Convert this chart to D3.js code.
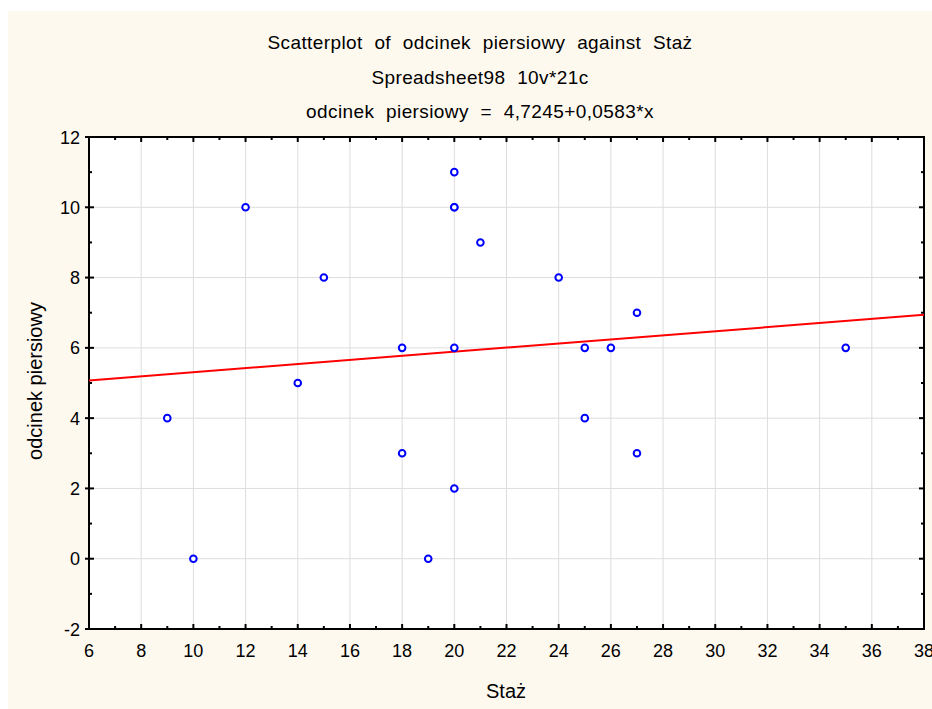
<!DOCTYPE html>
<html>
<head>
<meta charset="utf-8">
<script src="https://cdn.jsdelivr.net/npm/d3@7"></script>
<style>
  body { margin: 0; background: #ffffff; }
  svg { display: block; font-family: "Liberation Sans", Arial, sans-serif; }
</style>
</head>
<body>
<div id="chart"></div>
<script>
// data (21 cases, one duplicate at 20,10)
var staz = [9, 10, 12, 14, 15, 18, 18, 19, 20, 20, 20, 20, 20, 21, 24, 25, 25, 26, 27, 27, 35];
var odcinek = [4, 0, 10, 5, 8, 6, 3, 0, 11, 10, 10, 6, 2, 9, 8, 6, 4, 6, 7, 3, 6];
var xTicks = [6, 8, 10, 12, 14, 16, 18, 20, 22, 24, 26, 28, 30, 32, 34, 36, 38];
var yTicks = [-2, 0, 2, 4, 6, 8, 10, 12];
var intercept = 4.7245, slope = 0.0583;
var titles = ["Scatterplot of odcinek piersiowy against Staż",
              "Spreadsheet98 10v*21c",
              "odcinek piersiowy = 4,7245+0,0583*x"];

function drawChart() {
  var width = 932, height = 709;
  var pLeft = 89, pRight = 924, pTop = 137, pBottom = 629;

  var svg = d3.select("#chart").append("svg")
      .attr("width", width).attr("height", height);

  // cream panel
  svg.append("rect").attr("x", 8).attr("y", 11)
      .attr("width", width - 8).attr("height", height - 11)
      .attr("fill", "#fef9ef");

  var x = d3.scaleLinear().domain([6, 38]).range([pLeft, pRight]);
  var y = d3.scaleLinear().domain([-2, 12]).range([pBottom, pTop]);

  // plot background
  svg.append("rect").attr("x", pLeft).attr("y", pTop)
      .attr("width", pRight - pLeft).attr("height", pBottom - pTop)
      .attr("fill", "#fff");

  // grid
  svg.append("g").selectAll("line").data(xTicks.slice(1, -1)).enter().append("line")
      .attr("x1", d => x(d)).attr("x2", d => x(d))
      .attr("y1", pTop).attr("y2", pBottom)
      .attr("stroke", "#dddddd").attr("stroke-width", 1);
  svg.append("g").selectAll("line").data(yTicks.slice(1, -1)).enter().append("line")
      .attr("y1", d => y(d)).attr("y2", d => y(d))
      .attr("x1", pLeft).attr("x2", pRight)
      .attr("stroke", "#dddddd").attr("stroke-width", 1);

  // ticks on all four sides, pointing inward
  var xMinor = d3.range(6, 39, 1);
  var yMinor = d3.range(-2, 12.5, 1);

  function tickSet(g, vals, isX, pos, dir) {
    g.selectAll("line").data(vals).enter().append("line")
      .attr("stroke", "#000").attr("stroke-width", 2)
      .attr("x1", d => isX ? x(d) : pos)
      .attr("x2", d => isX ? x(d) : pos + dir * (d % 2 === 0 ? 5 : 3))
      .attr("y1", d => isX ? pos : y(d))
      .attr("y2", d => isX ? pos + dir * (d % 2 === 0 ? 5 : 3) : y(d));
  }
  var axes = svg.append("g");
  tickSet(axes.append("g"), xMinor, true, pBottom, -1);
  tickSet(axes.append("g"), xMinor, true, pTop, 1);
  tickSet(axes.append("g"), yMinor, false, pLeft, 1);
  tickSet(axes.append("g"), yMinor, false, pRight, -1);
  // left major ticks poke outward a bit
  axes.append("g").selectAll("line").data(yTicks).enter().append("line")
      .attr("x1", pLeft - 4).attr("x2", pLeft)
      .attr("y1", d => y(d)).attr("y2", d => y(d))
      .attr("stroke", "#000").attr("stroke-width", 2);

  axes.append("rect").attr("x", pLeft).attr("y", pTop)
      .attr("width", pRight - pLeft).attr("height", pBottom - pTop)
      .attr("fill", "none").attr("stroke", "#000").attr("stroke-width", 2);

  // tick labels
  svg.append("g").selectAll("text").data(xTicks).enter().append("text")
      .attr("x", d => x(d)).attr("y", pBottom + 28)
      .attr("text-anchor", "middle").attr("font-size", 18)
      .text(d => d);
  svg.append("g").selectAll("text").data(yTicks).enter().append("text")
      .attr("x", pLeft - 9).attr("y", d => y(d) + 6.5)
      .attr("text-anchor", "end").attr("font-size", 18)
      .text(d => d);

  // regression line
  svg.append("line")
      .attr("x1", x(6)).attr("y1", y(intercept + slope * 6))
      .attr("x2", x(38)).attr("y2", y(intercept + slope * 38))
      .attr("stroke", "#ff0000").attr("stroke-width", 2);

  // points
  svg.append("g").selectAll("circle").data(staz).enter().append("circle")
      .attr("cx", d => x(d)).attr("cy", (d, i) => y(odcinek[i]))
      .attr("r", 3.3)
      .attr("fill", "#fff").attr("stroke", "#0000ff").attr("stroke-width", 2);

  // titles
  svg.append("g").selectAll("text").data(titles).enter().append("text")
      .attr("x", 480).attr("y", (d, i) => 49 + i * 34.5)
      .attr("text-anchor", "middle").attr("font-size", 19)
      .attr("letter-spacing", 0.4).attr("word-spacing", 6)
      .text(d => d);

  // axis titles
  svg.append("text").attr("x", 506).attr("y", 698)
      .attr("text-anchor", "middle").attr("font-size", 20).text("Staż");
  svg.append("text")
      .attr("transform", "translate(42,381) rotate(-90)")
      .attr("text-anchor", "middle").attr("font-size", 20).text("odcinek piersiowy");
}

drawChart();
</script>
</body>
</html>
